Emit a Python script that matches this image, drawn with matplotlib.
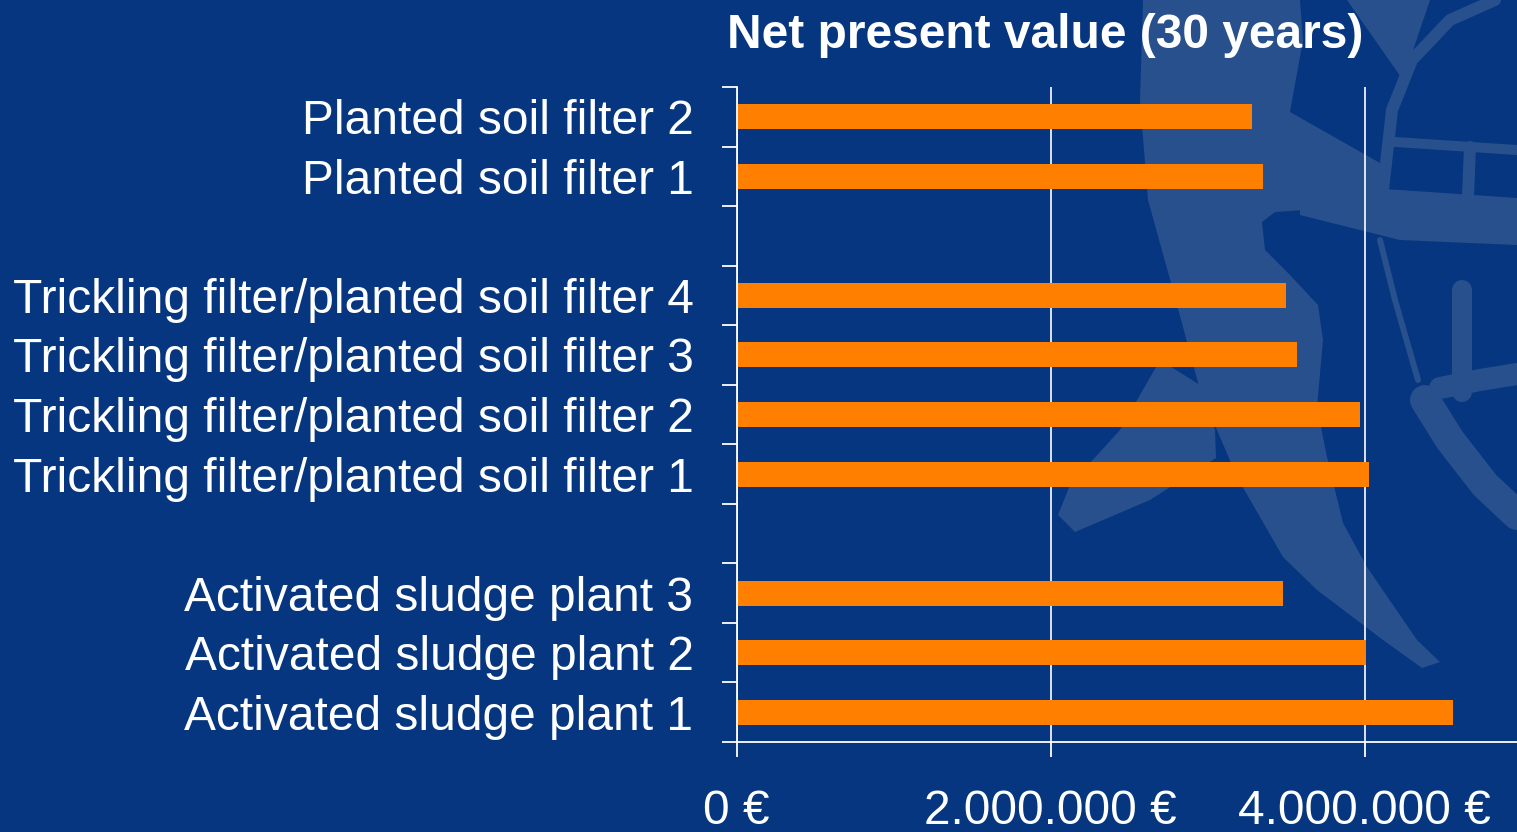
import matplotlib
matplotlib.use("Agg")
import matplotlib.pyplot as plt
import numpy as np
from matplotlib.patches import Polygon

plt.rcParams['font.family'] = ['Liberation Sans', 'DejaVu Sans']

# chart data (blank entries are the gaps between groups)
categories = [
    "Planted soil filter 2",
    "Planted soil filter 1",
    "",
    "Trickling filter/planted soil filter 4",
    "Trickling filter/planted soil filter 3",
    "Trickling filter/planted soil filter 2",
    "Trickling filter/planted soil filter 1",
    "",
    "Activated sludge plant 3",
    "Activated sludge plant 2",
    "Activated sludge plant 1",
]
npv = [3.28e6, 3.35e6, None, 3.50e6, 3.57e6, 3.97e6, 4.03e6, None, 3.48e6, 4.01e6, 4.56e6]
xticks = [0, 2e6, 4e6]
xtick_labels = ["0 €", "2.000.000 €", "4.000.000 €"]
title = "Net present value (30 years)"

bg_color = '#05367f'
logo_color = '#28508c'
bar_color = '#ff8000'

W, H = 1517, 832
fig = plt.figure(figsize=(W / 100, H / 100), dpi=100, facecolor=bg_color)

# faint logo in the background (pixel coordinates, origin top-left)
bg = fig.add_axes([0, 0, 1, 1], zorder=0)
bg.set_xlim(0, W)
bg.set_ylim(H, 0)
bg.axis('off')
shapes = [
    # comet body
    [(1143, 0), (1140, 100), (1148, 200), (1173, 290), (1200, 390), (1237, 477),
     (1283, 557), (1317, 590), (1383, 640), (1422, 668), (1440, 662), (1417, 640),
     (1367, 567), (1343, 523), (1327, 457), (1317, 407), (1323, 340), (1318, 305),
     (1290, 275), (1265, 250), (1262, 222), (1275, 212), (1380, 205), (1380, 163),
     (1290, 112), (1303, 40), (1300, 0)],
    # wing
    [(1160, 360), (1120, 430), (1070, 485), (1058, 515), (1075, 532), (1150, 500),
     (1216, 458), (1215, 430), (1200, 385)],
    # band into the globe
    [(1300, 185), (1400, 190), (1517, 198), (1517, 245), (1400, 240), (1300, 215)],
    # small triangle at the top
    [(1347, 0), (1430, 0), (1403, 80)],
]
for pts in shapes:
    bg.add_patch(Polygon(pts, closed=True, color=logo_color, lw=0))

px = 0.72  # points per pixel
globe_lines = [
    ([(1495, 0), (1450, 20), (1412, 60), (1392, 110), (1383, 190)], 12),
    ([(1395, 142), (1517, 150)], 10),
    ([(1470, 147), (1468, 195)], 12),
    ([(1380, 240), (1395, 300), (1418, 380)], 6),
    ([(1425, 400), (1450, 440), (1485, 485), (1517, 515)], 30),
    ([(1462, 290), (1462, 392)], 20),
    ([(1440, 388), (1480, 380), (1517, 374)], 22),
]
for pts, w in globe_lines:
    xs, ys = zip(*pts)
    bg.plot(xs, ys, color=logo_color, lw=w * px, solid_capstyle='round',
            solid_joinstyle='round')

# main chart
x0, x_per_m = 736.5, 157.05
ax = fig.add_axes([x0 / W, 90 / H, 5 * x_per_m / W, 655 / H], zorder=1)
ax.set_facecolor('none')

ypos = np.arange(len(categories))
for y, v in zip(ypos, npv):
    if v is not None:
        ax.barh(y, v, height=0.42, color=bar_color, zorder=3)

ax.set_xlim(0, 5e6)
ax.set_ylim(len(categories) - 0.5, -0.5)

ax.set_yticks(ypos)
ax.set_yticklabels(categories, color='white', fontsize=34.5)
ax.set_yticks(np.arange(-0.5, len(categories)), minor=True)
ax.tick_params(axis='y', which='major', length=0, pad=31)
ax.tick_params(axis='y', which='minor', length=10.8, width=1.3, color='white')

ax.set_xticks(xticks)
ax.set_xticklabels(xtick_labels, color='white', fontsize=34.5)
ax.tick_params(axis='x', length=10.8, width=1.3, color='white', pad=23)

ax.grid(axis='x', color='white', lw=1.2)
ax.set_axisbelow(True)
for side in ['top', 'right']:
    ax.spines[side].set_visible(False)
for side in ['left', 'bottom']:
    ax.spines[side].set_color('white')
    ax.spines[side].set_linewidth(1.3)
    ax.spines[side].set_zorder(4)

fig.text(1045 / W, 1 - 48 / H, title, ha='center', va='baseline',
         color='white', fontsize=34.5, fontweight='bold')

fig.savefig('out.png', dpi=100, facecolor=bg_color)
